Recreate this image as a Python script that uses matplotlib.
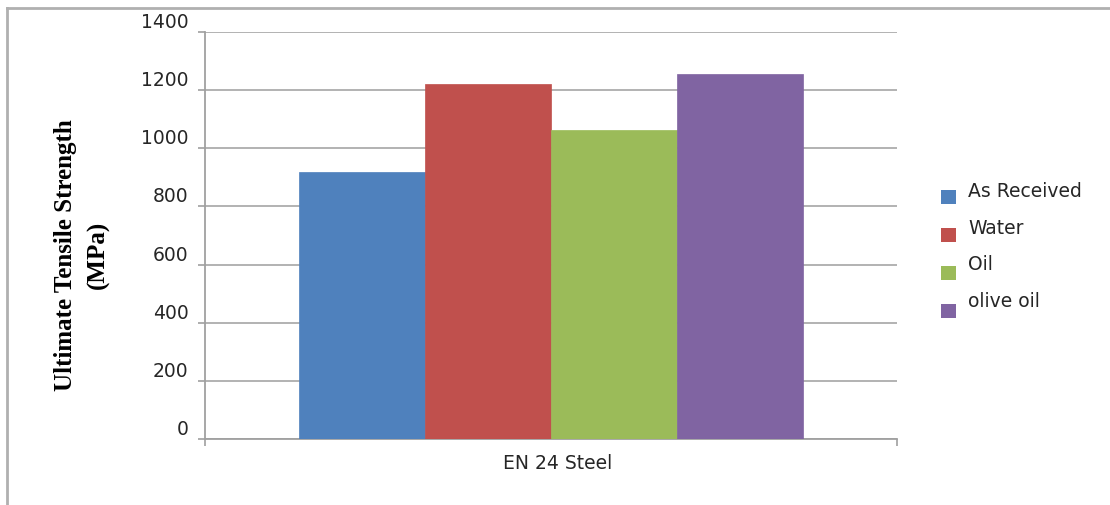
import matplotlib
matplotlib.use("Agg")
import matplotlib.pyplot as plt
from matplotlib.patches import Rectangle
from matplotlib.lines import Line2D
from matplotlib.transforms import ScaledTranslation

categories = ["EN 24 Steel"]
series = ["As Received", "Water", "Oil", "olive oil"]
values = [920, 1222, 1062, 1254]
colors = ["#4F81BD", "#C0504D", "#9BBB59", "#8064A2"]
yticks = [0, 200, 400, 600, 800, 1000, 1200, 1400]

W, H = 1110, 506
FS = 13.5
SANS = "DejaVu Sans"
fig = plt.figure(figsize=(W / 100, H / 100), dpi=100)
ax = fig.add_axes([205 / W, 1 - 440 / H, 692 / W, 407 / H])

group = 0.727
bw = group / len(series)
for i, (name, v, c) in enumerate(zip(series, values, colors)):
    ax.bar(0 + (i - (len(series) - 1) / 2) * bw, v, width=bw, color=c,
           edgecolor=c, linewidth=0.5, zorder=3, label=name)

ax.set_xlim(-0.5, 0.5)
ax.set_ylim(0, 1400)
ax.set_yticks(yticks)
ax.set_yticklabels([str(t) for t in yticks], fontsize=FS, family=SANS, color="#262626")
ax.grid(axis="y", color="#a6a6a6", linewidth=1.2, zorder=0)
ax.set_axisbelow(True)

for s in ["top", "right"]:
    ax.spines[s].set_visible(False)
for s in ["left", "bottom"]:
    ax.spines[s].set_color("#a0a0a0")
    ax.spines[s].set_linewidth(1.3)

ax.tick_params(axis="y", length=5, width=1.2, color="#a0a0a0", pad=7)
off = ScaledTranslation(0, 12.5 / 100, fig.dpi_scale_trans)
for lab in ax.get_yticklabels():
    lab.set_transform(lab.get_transform() + off)

ax.set_xticks([-0.5, 0.5])
ax.set_xticklabels(["", ""])
ax.tick_params(axis="x", which="major", length=5, width=1.2, color="#a0a0a0")
ax.set_xticks([0.01], minor=True)
ax.set_xticklabels(categories, minor=True, fontsize=FS, family=SANS, color="#262626")
ax.tick_params(axis="x", which="minor", length=0, pad=10)

fig.text(82 / W, 1 - 255 / H, "Ultimate Tensile Strength\n(MPa)", rotation=90,
         ha="center", va="center", multialignment="center", fontsize=18,
         family="Liberation Serif", fontweight="bold", linespacing=1.55)

# legend
for i, (name, c) in enumerate(zip(series, colors)):
    yc = 198 + i * 38
    fig.patches.append(Rectangle((941 / W, 1 - (yc + 7) / H), 15 / W, 14 / H,
                                 transform=fig.transFigure, facecolor=c, edgecolor="none"))
    fig.text(968 / W, 1 - (197 + i * 36.7) / H, name, ha="left", va="baseline",
             fontsize=FS, family=SANS, color="#262626")

# outer frame
fig.add_artist(Line2D([7 / W, 1], [1 - 9 / H, 1 - 9 / H], transform=fig.transFigure,
                      color="#b0b0b0", linewidth=2))
fig.add_artist(Line2D([7 / W, 7 / W], [1 - 9 / H, 0], transform=fig.transFigure,
                      color="#b0b0b0", linewidth=2))

fig.savefig("out.png", dpi=100)
